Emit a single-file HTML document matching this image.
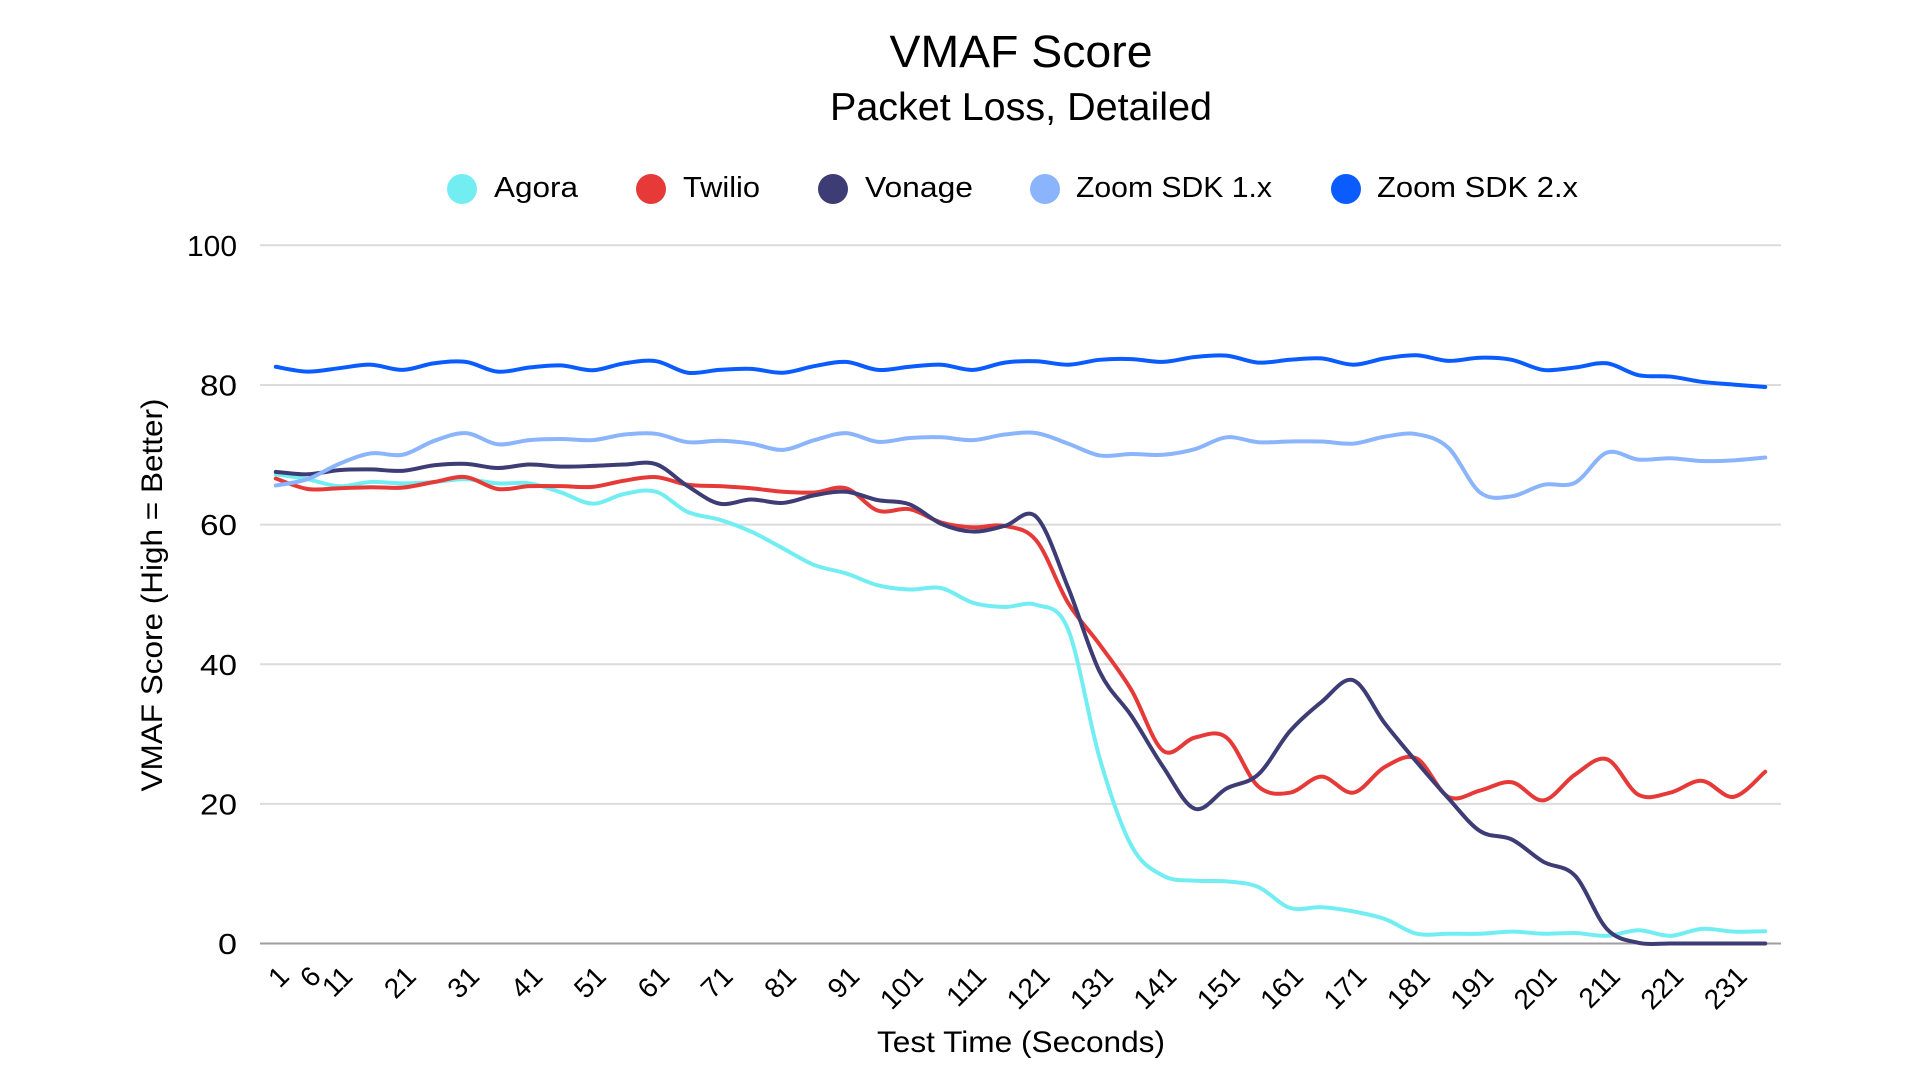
<!DOCTYPE html>
<html>
<head>
<meta charset="utf-8">
<style>
  html, body { margin: 0; padding: 0; background: #ffffff; }
  body { width: 1920px; height: 1080px; overflow: hidden; }
  svg { display: block; }
  text { font-family: "Liberation Sans", Arial, sans-serif; fill: #000; }
  .s { fill: none; stroke-width: 4; stroke-linejoin: round; stroke-linecap: round; vector-effect: non-scaling-stroke; }
</style>
</head>
<body>
<svg width="1920" height="1080" viewBox="0 0 1920 1080" xmlns="http://www.w3.org/2000/svg">
  <rect x="0" y="0" width="1920" height="1080" fill="#ffffff"/>

  <!-- Titles -->
  <text x="1021" y="67" font-size="45" text-anchor="middle" textLength="263" lengthAdjust="spacingAndGlyphs">VMAF Score</text>
  <text x="1021" y="120" font-size="39" text-anchor="middle" textLength="382" lengthAdjust="spacingAndGlyphs">Packet Loss, Detailed</text>

  <!-- Legend -->
  <circle cx="462" cy="189" r="15" fill="#72EEF3"/>
  <text x="494" y="197" font-size="29" textLength="84" lengthAdjust="spacingAndGlyphs">Agora</text>
  <circle cx="651" cy="189" r="15" fill="#E53A38"/>
  <text x="683" y="197" font-size="29" textLength="77" lengthAdjust="spacingAndGlyphs">Twilio</text>
  <circle cx="833" cy="189" r="15" fill="#3D3C75"/>
  <text x="865" y="197" font-size="29" textLength="108" lengthAdjust="spacingAndGlyphs">Vonage</text>
  <circle cx="1045" cy="189" r="15" fill="#8AB4FB"/>
  <text x="1076" y="197" font-size="29" textLength="196" lengthAdjust="spacingAndGlyphs">Zoom SDK 1.x</text>
  <circle cx="1346" cy="189" r="15" fill="#0B5CFF"/>
  <text x="1377" y="197" font-size="29" textLength="201" lengthAdjust="spacingAndGlyphs">Zoom SDK 2.x</text>

  <!-- Gridlines -->
  <g stroke="#dcdcdc" stroke-width="2">
    <line x1="260" x2="1781" y1="245.3" y2="245.3"/>
    <line x1="260" x2="1781" y1="385.0" y2="385.0"/>
    <line x1="260" x2="1781" y1="524.6" y2="524.6"/>
    <line x1="260" x2="1781" y1="664.2" y2="664.2"/>
    <line x1="260" x2="1781" y1="803.9" y2="803.9"/>
  </g>
  <line x1="260" x2="1781" y1="943.5" y2="943.5" stroke="#9e9e9e" stroke-width="2"/>

  <!-- Y labels -->
  <g font-size="29" text-anchor="end">
    <text x="237" y="256" textLength="50" lengthAdjust="spacingAndGlyphs">100</text>
    <text x="237" y="395.5" textLength="37" lengthAdjust="spacingAndGlyphs">80</text>
    <text x="237" y="535" textLength="37" lengthAdjust="spacingAndGlyphs">60</text>
    <text x="237" y="675" textLength="37" lengthAdjust="spacingAndGlyphs">40</text>
    <text x="237" y="814.5" textLength="37" lengthAdjust="spacingAndGlyphs">20</text>
    <text x="237" y="954" textLength="19" lengthAdjust="spacingAndGlyphs">0</text>
  </g>

  <!-- Y axis title -->
  <text transform="translate(162,595) rotate(-90)" x="0" y="0" font-size="30" text-anchor="middle" textLength="393" lengthAdjust="spacingAndGlyphs">VMAF Score (High = Better)</text>

  <!-- X tick labels -->
  <g font-size="28" text-anchor="end">
    <text transform="translate(290.8,978) rotate(-45)">1</text>
    <text transform="translate(322.5,978) rotate(-45)">6</text>
    <text transform="translate(354.2,978) rotate(-45)">11</text>
    <text transform="translate(417.6,978) rotate(-45)">21</text>
    <text transform="translate(481.0,978) rotate(-45)">31</text>
    <text transform="translate(544.3,978) rotate(-45)">41</text>
    <text transform="translate(607.7,978) rotate(-45)">51</text>
    <text transform="translate(671.1,978) rotate(-45)">61</text>
    <text transform="translate(734.5,978) rotate(-45)">71</text>
    <text transform="translate(797.9,978) rotate(-45)">81</text>
    <text transform="translate(861.2,978) rotate(-45)">91</text>
    <text transform="translate(924.6,978) rotate(-45)">101</text>
    <text transform="translate(988.0,978) rotate(-45)">111</text>
    <text transform="translate(1051.4,978) rotate(-45)">121</text>
    <text transform="translate(1114.8,978) rotate(-45)">131</text>
    <text transform="translate(1178.1,978) rotate(-45)">141</text>
    <text transform="translate(1241.5,978) rotate(-45)">151</text>
    <text transform="translate(1304.9,978) rotate(-45)">161</text>
    <text transform="translate(1368.3,978) rotate(-45)">171</text>
    <text transform="translate(1431.7,978) rotate(-45)">181</text>
    <text transform="translate(1495.0,978) rotate(-45)">191</text>
    <text transform="translate(1558.4,978) rotate(-45)">201</text>
    <text transform="translate(1621.8,978) rotate(-45)">211</text>
    <text transform="translate(1685.2,978) rotate(-45)">221</text>
    <text transform="translate(1748.6,978) rotate(-45)">231</text>
  </g>

  <!-- X axis title -->
  <text x="1021" y="1052" font-size="30" text-anchor="middle" textLength="288" lengthAdjust="spacingAndGlyphs">Test Time (Seconds)</text>

  <!-- Series (data coords: x = index k, y = value) -->
  <g transform="matrix(31.69,0,0,-6.982,275.8,943.5)">
    <polyline class="s" stroke="#72EEF3" points="0,67.2 1,66.5 2,65.5 3,66.1 4,65.9 5,66.1 6,66.5 7,65.9 8,65.9 9,64.6 10,63.0 11,64.4 12,64.7 13,61.8 14,60.7 15,59.0 16,56.6 17,54.2 18,53.0 19,51.3 20,50.7 21,50.9 22,48.8 23,48.2 24,48.5 25,45.0 26,26.5 27,14.0 28,9.7 29,9.0 30,8.9 31,8.1 32,5.1 33,5.2 34,4.6 35,3.5 36,1.4 37,1.4 38,1.4 39,1.7 40,1.4 41,1.5 42,1.1 43,1.9 44,1.1 45,2.1 46,1.7 47,1.75"/>
    <polyline class="s" stroke="#E53A38" points="0,66.6 1,65.1 2,65.2 3,65.35 4,65.3 5,66.1 6,66.8 7,65.1 8,65.5 9,65.5 10,65.4 11,66.3 12,66.8 13,65.7 14,65.5 15,65.2 16,64.7 17,64.6 18,65.2 19,62.0 20,62.2 21,60.3 22,59.6 23,59.8 24,57.7 25,48.8 26,42.8 27,36.3 28,27.6 29,29.5 30,29.5 31,22.5 32,21.6 33,23.9 34,21.6 35,25.3 36,26.5 37,21.0 38,21.9 39,23.1 40,20.5 41,24.2 42,26.4 43,21.3 44,21.6 45,23.3 46,21.0 47,24.6"/>
    <polyline class="s" stroke="#3D3C75" points="0,67.55 1,67.2 2,67.8 3,67.9 4,67.7 5,68.5 6,68.7 7,68.1 8,68.6 9,68.3 10,68.4 11,68.6 12,68.65 13,65.5 14,63.0 15,63.6 16,63.1 17,64.2 18,64.7 19,63.5 20,62.9 21,60.1 22,59.0 23,59.8 24,61.1 25,51.0 26,38.9 27,32.6 28,25.3 29,19.3 30,22.2 31,24.2 32,30.4 33,34.6 34,37.7 35,31.5 36,26.0 37,20.8 38,16.1 39,14.9 40,11.7 41,9.7 42,2.1 43,0.1 44,0 45,0 46,0 47,0"/>
    <polyline class="s" stroke="#8AB4FB" points="0,65.6 1,66.5 2,68.7 3,70.2 4,70.0 5,72.0 6,73.1 7,71.5 8,72.1 9,72.25 10,72.1 11,72.9 12,73.0 13,71.8 14,72.0 15,71.6 16,70.7 17,72.1 18,73.1 19,71.85 20,72.4 21,72.5 22,72.1 23,72.9 24,73.1 25,71.6 26,69.9 27,70.1 28,70.0 29,70.8 30,72.5 31,71.8 32,71.9 33,71.9 34,71.6 35,72.6 36,72.95 37,71.0 38,64.6 39,64.05 40,65.7 41,66.0 42,70.3 43,69.3 44,69.5 45,69.1 46,69.2 47,69.6"/>
    <polyline class="s" stroke="#0B5CFF" points="0,82.6 1,81.9 2,82.4 3,82.9 4,82.15 5,83.1 6,83.3 7,81.9 8,82.5 9,82.8 10,82.1 11,83.1 12,83.4 13,81.75 14,82.15 15,82.3 16,81.75 17,82.7 18,83.3 19,82.15 20,82.6 21,82.9 22,82.15 23,83.2 24,83.4 25,82.9 26,83.6 27,83.7 28,83.3 29,84.0 30,84.2 31,83.2 32,83.6 33,83.8 34,82.9 35,83.8 36,84.25 37,83.45 38,83.9 39,83.6 40,82.15 41,82.5 42,83.1 43,81.4 44,81.2 45,80.45 46,80.05 47,79.7"/>
  </g>
</svg>
<script>
(function(){
  var NS = "http://www.w3.org/2000/svg";
  var pls = document.querySelectorAll("polyline.s");
  for (var j = 0; j < pls.length; j++) {
    var pl = pls[j];
    var pts = pl.getAttribute("points").trim().split(/\s+/).map(function(p){ return p.split(",").map(Number); });
    var n = pts.length;
    var d = "M" + pts[0][0] + "," + pts[0][1];
    for (var i = 0; i < n - 1; i++) {
      var p0 = pts[Math.max(i - 1, 0)], p1 = pts[i], p2 = pts[i + 1], p3 = pts[Math.min(i + 2, n - 1)];
      var c1x = p1[0] + (p2[0] - p0[0]) / 6, c1y = p1[1] + (p2[1] - p0[1]) / 6;
      var c2x = p2[0] - (p3[0] - p1[0]) / 6, c2y = p2[1] - (p3[1] - p1[1]) / 6;
      d += " C" + c1x.toFixed(4) + "," + c1y.toFixed(4) + " " + c2x.toFixed(4) + "," + c2y.toFixed(4) + " " + p2[0] + "," + p2[1];
    }
    var path = document.createElementNS(NS, "path");
    path.setAttribute("d", d);
    path.setAttribute("class", "s");
    path.setAttribute("stroke", pl.getAttribute("stroke"));
    pl.parentNode.replaceChild(path, pl);
  }
})();
</script>
</body>
</html>
